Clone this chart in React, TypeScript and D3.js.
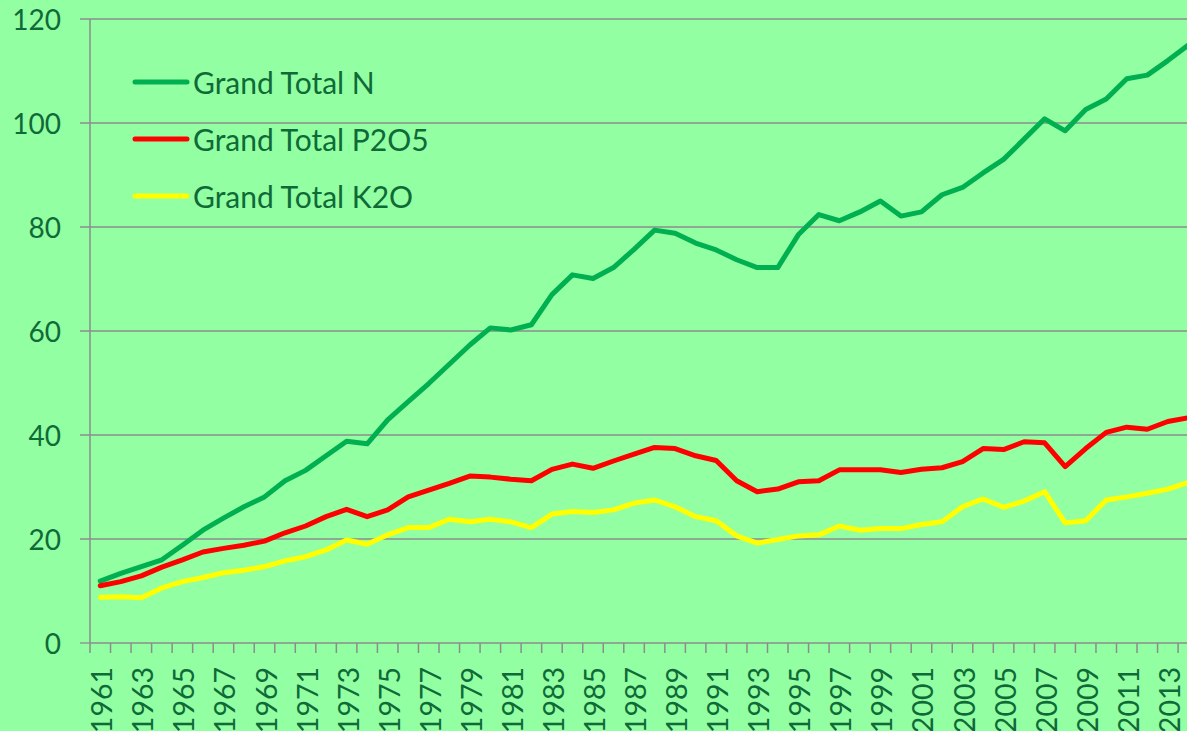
import React from "react";
import * as d3 from "d3";

const years: number[] = d3.range(1961, 2015);

const grandTotalN: number[] = [
  11.9, 13.4, 14.7, 16.0, 18.8, 21.7, 24.0, 26.2, 28.1, 31.2,
  33.2, 36.0, 38.8, 38.3, 42.9, 46.4, 49.9, 53.6, 57.3, 60.6,
  60.2, 61.2, 67.0, 70.8, 70.1, 72.2, 75.7, 79.4, 78.8, 76.9,
  75.6, 73.7, 72.2, 72.2, 78.5, 82.4, 81.2, 82.9, 85.0, 82.1,
  82.9, 86.2, 87.6, 90.4, 93.0, 96.9, 100.8, 98.5, 102.6, 104.6,
  108.5, 109.2, 112.0, 115.0,
];

const grandTotalP2O5: number[] = [
  11.0, 11.8, 12.9, 14.6, 16.0, 17.5, 18.2, 18.8, 19.6, 21.2,
  22.5, 24.3, 25.7, 24.3, 25.6, 28.1, 29.4, 30.7, 32.1, 31.9,
  31.5, 31.2, 33.4, 34.4, 33.6, 35.0, 36.3, 37.6, 37.4, 36.0,
  35.1, 31.2, 29.1, 29.6, 31.0, 31.2, 33.3, 33.3, 33.3, 32.8,
  33.4, 33.7, 34.9, 37.4, 37.2, 38.7, 38.5, 33.9, 37.4, 40.5,
  41.5, 41.1, 42.6, 43.3,
];

const grandTotalK2O: number[] = [
  8.8, 8.9, 8.7, 10.6, 11.8, 12.6, 13.5, 14.0, 14.7, 15.8,
  16.6, 17.9, 19.8, 19.0, 20.8, 22.2, 22.2, 23.8, 23.3, 23.8,
  23.3, 22.2, 24.8, 25.3, 25.1, 25.6, 26.9, 27.5, 26.2, 24.3,
  23.5, 20.6, 19.2, 19.9, 20.6, 20.8, 22.5, 21.7, 22.0, 22.0,
  22.8, 23.3, 26.2, 27.7, 26.1, 27.3, 29.1, 23.1, 23.5, 27.5,
  28.1, 28.8, 29.6, 30.9,
];

const seriesNames: string[] = ["Grand Total N", "Grand Total P2O5", "Grand Total K2O"];
const seriesColors: string[] = ["#00B050", "#FF0000", "#FFFF00"];
const yTicks: number[] = [0, 20, 40, 60, 80, 100, 120];

const W = 1187;
const H = 731;
const BG = "#92FFA2";
const TEXT = "#0F6A38";
const GRID = "#8C8C8C";
const FONT = "Lato, 'Open Sans', sans-serif";

export default function App() {
  const left = 90;
  const step = 20.53;
  const domainYears = d3.range(1961, 2016);
  const x = d3
    .scaleBand<number>()
    .domain(domainYears)
    .range([left, left + step * domainYears.length])
    .padding(0);
  const y = d3.scaleLinear().domain([0, 120]).range([643, 19]);
  const cx = (yr: number) => (x(yr) as number) + x.bandwidth() / 2;

  const allSeries = [grandTotalN, grandTotalP2O5, grandTotalK2O];
  const line = d3
    .line<number>()
    .x((_, i) => cx(years[i]))
    .y((d) => y(d));

  const plotRight = left + step * domainYears.length;

  return (
    <svg
      width={W}
      height={H}
      style={{ position: "absolute", left: 0, top: 0, background: BG }}
      fontFamily={FONT}
    >
      <rect x={0} y={0} width={W} height={H} fill={BG} />
      {yTicks.map((t) => (
        <g key={t}>
          {t > 0 && (
            <line x1={80} x2={plotRight} y1={y(t)} y2={y(t)} stroke={GRID} strokeWidth={1.3} />
          )}
          {t === 0 && <line x1={80} x2={left} y1={y(t)} y2={y(t)} stroke={GRID} strokeWidth={1.3} />}
          <text
            x={61}
            y={y(t)}
            textAnchor="end"
            dominantBaseline="central"
            fontSize={28}
            fill={TEXT}
          >
            {t}
          </text>
        </g>
      ))}
      <line x1={left} x2={left} y1={y(120)} y2={y(0)} stroke={GRID} strokeWidth={1.5} />
      <line x1={left} x2={plotRight} y1={y(0)} y2={y(0)} stroke={GRID} strokeWidth={1.5} />
      {domainYears.map((yr) => (
        <line
          key={"t" + yr}
          x1={x(yr) as number}
          x2={x(yr) as number}
          y1={y(0)}
          y2={y(0) + 10}
          stroke={GRID}
          strokeWidth={1.5}
        />
      ))}
      {years
        .filter((yr) => (yr - 1961) % 2 === 0)
        .map((yr) => (
          <text
            key={"l" + yr}
            transform={`translate(${cx(yr) + 1},${667}) rotate(-90)`}
            textAnchor="end"
            dominantBaseline="central"
            fontSize={28.5}
            fill={TEXT}
          >
            {yr}
          </text>
        ))}
      {allSeries.map((s, i) => (
        <path
          key={"s" + i}
          d={line(s) || ""}
          fill="none"
          stroke={seriesColors[i]}
          strokeWidth={5}
          strokeLinejoin="round"
          strokeLinecap="round"
        />
      ))}
      {seriesNames.map((n, i) => {
        const ly = 82 + i * 57;
        return (
          <g key={"lg" + i}>
            <line
              x1={135}
              x2={187}
              y1={ly}
              y2={ly}
              stroke={seriesColors[i]}
              strokeWidth={5}
              strokeLinecap="round"
            />
            <text x={193} y={ly} dominantBaseline="central" fontSize={30} fill={TEXT}>
              {n}
            </text>
          </g>
        );
      })}
    </svg>
  );
}
